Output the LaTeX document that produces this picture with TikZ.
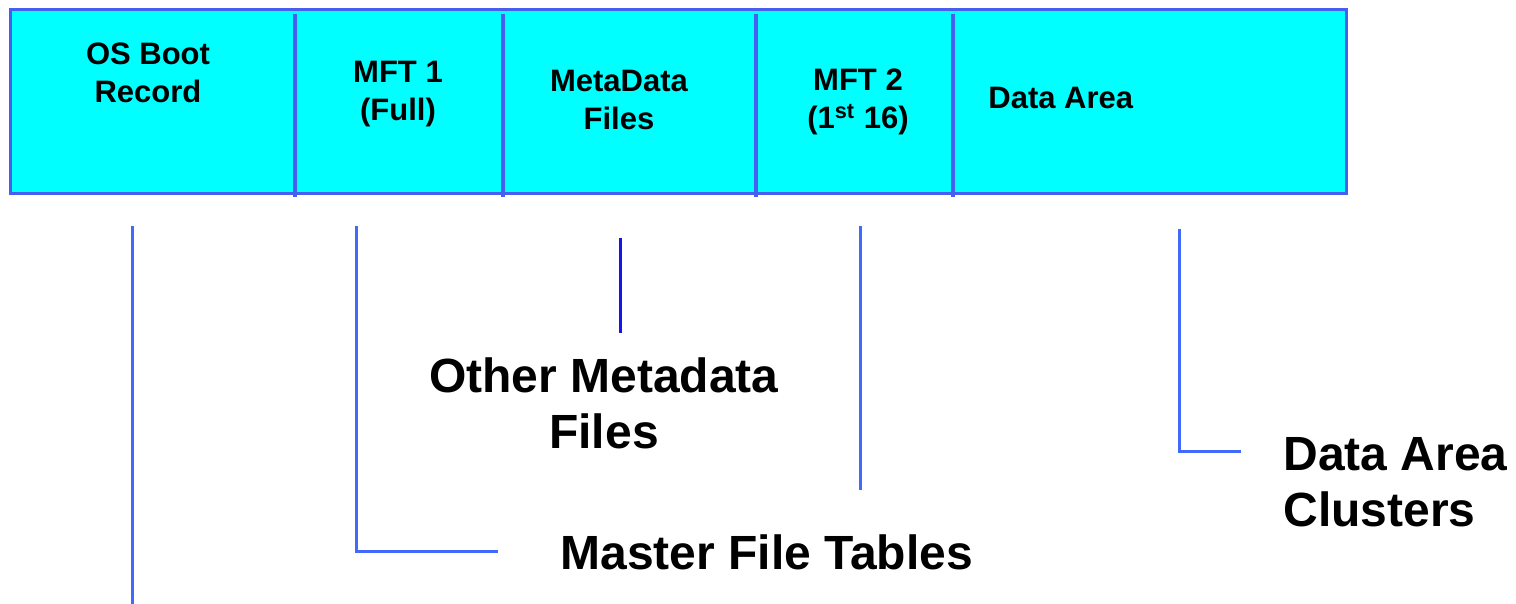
\documentclass[tikz,border=0pt]{standalone}
\usepackage{fontspec}
\setmainfont{Liberation Sans}
\begin{document}
\begin{tikzpicture}[x=0.5pt,y=-0.5pt,
  boxline/.style={draw=boxblue,line width=1.6pt},
  guide/.style={draw=lineblue,line width=1.5pt},
  guidedark/.style={draw=darkblue,line width=1.5pt},
  boxtext/.style={font=\fontsize{15.5pt}{19pt}\selectfont\bfseries,align=center,inner sep=0pt},
  bigtext/.style={font=\fontsize{24pt}{28pt}\selectfont\bfseries,inner sep=0pt}]
\definecolor{boxblue}{RGB}{70,95,240}
\definecolor{lineblue}{RGB}{65,105,250}
\definecolor{darkblue}{RGB}{20,20,235}
\definecolor{fillcyan}{RGB}{0,255,255}
\useasboundingbox (0,0) rectangle (1516,604);
% disk layout bar
\node[boxline,fill=fillcyan,minimum width=668pt,minimum height=92pt,inner sep=0pt,outer sep=0pt,anchor=north west] (bar) at (10.5,9.5) {};
\coordinate (d1t) at (295,14); \coordinate (d1b) at (295,197);
\coordinate (d2t) at (503,14); \coordinate (d2b) at (503,197);
\coordinate (d3t) at (756,14); \coordinate (d3b) at (756,197);
\coordinate (d4t) at (953,14); \coordinate (d4b) at (953,197);
\draw[boxline] (d1t) -- (d1b);
\draw[boxline] (d2t) -- (d2b);
\draw[boxline] (d3t) -- (d3b);
\draw[boxline] (d4t) -- (d4b);
% segment labels
\node[boxtext] (boot) at (148,73) {OS Boot\\Record};
\node[boxtext] (mft1) at (398,94) {MFT 1\\(Full)};
\node[boxtext] (meta) at (619,100) {MetaData\\Files};
\node[boxtext] (mft2) at (858,102) {MFT 2\\(1\textsuperscript{st} 16)};
\node[boxtext,anchor=west] (data) at (988,98) {Data Area};
% lower labels
\node[bigtext,align=center] (othermeta) at (604,403) {Other Metadata\\Files};
\node[bigtext,anchor=west] (mft) at (560,552) {Master File Tables};
\node[bigtext,align=left,anchor=west] (clusters) at (1283,482) {Data Area\\Clusters};
% guide lines
\coordinate (g1t) at (132,226); \coordinate (g1b) at (132,604);
\draw[guide] (g1t) -- (g1b);
\coordinate (g2t) at (356,226); \coordinate (g2c) at (356,551); \coordinate (g2e) at (498,551);
\draw[guide] (g2t) -- (g2c) -- (g2e);
\coordinate (g3t) at (620,238); \coordinate (g3b) at (620,333);
\draw[guidedark] (g3t) -- (g3b);
\coordinate (g4t) at (860,226); \coordinate (g4b) at (860,490);
\draw[guide] (g4t) -- (g4b);
\coordinate (g5t) at (1179,229); \coordinate (g5c) at (1179,451); \coordinate (g5e) at (1241,451);
\draw[guide] (g5t) -- (g5c) -- (g5e);
\end{tikzpicture}
\end{document}
